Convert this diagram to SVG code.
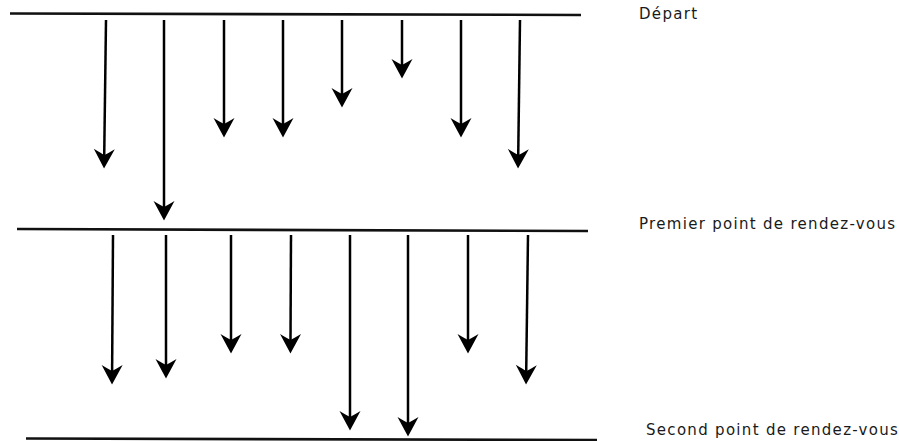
<svg xmlns="http://www.w3.org/2000/svg" width="899" height="441" viewBox="0 0 899 441">
  <defs>
    <!-- barbed arrowhead, tip at the origin, pointing along +x -->
    <marker id="head" markerUnits="userSpaceOnUse" markerWidth="24" markerHeight="24"
            viewBox="-22 -12 24 24" refX="-11" refY="0" orient="auto" overflow="visible">
      <path d="M0.5,0 L-19,-10.5 Q-14.5,-3 -13,0 Q-14.5,3 -19,10.5 Z" fill="#000"/>
    </marker>
  </defs>
  <style>
    .bar { stroke: #111; stroke-width: 2.6; fill: none; }
    .arrow { stroke: #000; stroke-width: 2.5; fill: none; marker-end: url(#head); }
    .label { font-family: "DejaVu Sans", "Noto Sans", sans-serif; font-size: 15px; letter-spacing: 1.3px; fill: #1a1a1a; }
  </style>

  <rect width="899" height="441" fill="#fff"/>

  <!-- horizontal stages -->
  <g id="depart">
    <line class="bar" x1="10" y1="13.5" x2="581" y2="15"/>
    <text class="label" x="639" y="19">Départ</text>
  </g>
  <g id="premier-rdv">
    <line class="bar" x1="17" y1="229" x2="588" y2="231"/>
    <text class="label" x="639" y="229">Premier point de rendez-vous</text>
  </g>
  <g id="second-rdv">
    <line class="bar" x1="26" y1="438.5" x2="597" y2="440"/>
    <text class="label" x="646" y="435">Second point de rendez-vous</text>
  </g>

  <!-- arrows: each line ends 11px above its tip -->
  <g id="connectors">
    <!-- from Départ -->
    <line class="arrow" x1="106" y1="20" x2="104.2" y2="157"/>
    <line class="arrow" x1="164" y1="20" x2="164" y2="209"/>
    <line class="arrow" x1="224" y1="20" x2="224" y2="126"/>
    <line class="arrow" x1="283" y1="20" x2="283" y2="126"/>
    <line class="arrow" x1="342" y1="20" x2="342" y2="96"/>
    <line class="arrow" x1="402" y1="20" x2="402" y2="67"/>
    <line class="arrow" x1="461" y1="20" x2="461" y2="126"/>
    <line class="arrow" x1="520" y1="20" x2="518.2" y2="157"/>
    <!-- from the first meeting point -->
    <line class="arrow" x1="113" y1="235" x2="112.1" y2="373"/>
    <line class="arrow" x1="166" y1="235" x2="166" y2="367"/>
    <line class="arrow" x1="231" y1="235" x2="231" y2="342"/>
    <line class="arrow" x1="291" y1="235" x2="290.5" y2="342"/>
    <line class="arrow" x1="350" y1="235" x2="350" y2="419"/>
    <line class="arrow" x1="408" y1="235" x2="408" y2="425"/>
    <line class="arrow" x1="468" y1="235" x2="468" y2="342"/>
    <line class="arrow" x1="528" y1="235" x2="526.2" y2="373"/>
  </g>
</svg>
